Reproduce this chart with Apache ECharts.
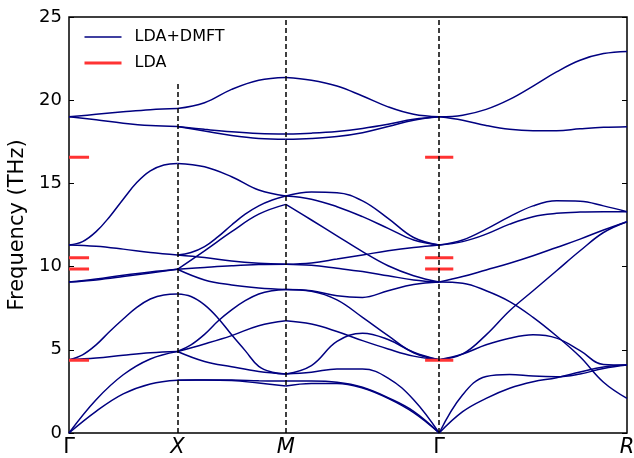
<!DOCTYPE html>
<html lang="en">
<head>
<meta charset="UTF-8">
<title>Phonon bands LDA+DMFT</title>
<style>
    html, body { margin: 0; padding: 0; background: #fff; }
    #bands { width: 634px; height: 458px; }
</style>
</head>
<body>
<div id="bands"></div>

<script src="https://cdn.jsdelivr.net/npm/echarts@6/dist/echarts.min.js"></script>
<script>
    // high symmetry points on the q path
    var kLabels = ['Γ', 'X', 'M', 'Γ', 'R'];
    var kPos = [0, 1, 2, 3.4142, 5.1463];

    // LDA+DMFT frequencies (THz), equally spaced samples along each path segment
    // (a band may carry more samples where it bends a lot)
    var bandsGX = [
        [0, 1.3, 2.35, 2.95, 3.17],
        [0, 2.0, 3.5, 4.45, 4.9],
        [4.4, 4.5, 4.67, 4.82, 4.9],
        [4.4, 4.7, 5.3, 6.1, 6.85, 7.55, 8.05, 8.3, 8.35],
        [9.07, 9.2, 9.4, 9.62, 9.84],
        [9.07, 9.25, 9.48, 9.68, 9.84],
        [11.3, 11.22, 11.05, 10.85, 10.7],
        [11.3, 11.5, 12.1, 13.0, 14.05, 15.05, 15.75, 16.1, 16.2],
        [19.0, 19.15, 19.3, 19.43, 19.5],
        [19.0, 18.82, 18.62, 18.48, 18.42]
    ];
    var bandsXM = [
        [3.17, 3.18, 3.18, 3.14, 3.12],
        [3.17, 3.18, 3.15, 3.0, 2.83],
        [4.9, 4.3, 3.98, 3.7, 3.55],
        [8.35, 8.2, 7.7, 6.9, 5.9, 4.95, 4.0, 3.65, 3.55],
        [4.9, 5.3, 5.93, 6.73, 7.4, 7.95, 8.35, 8.55, 8.63],
        [4.9, 5.35, 5.85, 6.45, 6.75],
        [9.84, 9.2, 8.9, 8.72, 8.63],
        [9.84, 9.95, 10.05, 10.12, 10.14],
        [10.7, 10.55, 10.33, 10.2, 10.14],
        [9.84, 10.95, 12.1, 13.15, 13.74],
        [10.7, 10.85, 11.2, 11.8, 12.5, 13.15, 13.65, 14.0, 14.24],
        [16.2, 16.0, 15.4, 14.6, 14.24],
        [19.5, 19.85, 20.65, 21.2, 21.37],
        [18.42, 18.25, 18.1, 18.0, 17.97],
        [18.42, 18.15, 17.88, 17.7, 17.65]
    ];
    var bandsMG = [
        [3.12, 3.12, 3.05, 2.75, 2.12, 1.3, 0],
        [2.83, 2.98, 2.98, 2.7, 2.08, 1.22, 0],
        [3.55, 3.65, 3.85, 3.85, 3.3, 2.0, 0],
        [3.55, 4.05, 5.5, 6.0, 5.62, 4.85, 4.4],
        [6.75, 6.55, 6.1, 5.55, 5.05, 4.62, 4.4],
        [8.63, 8.52, 8.0, 6.95, 5.85, 4.82, 4.4],
        [8.63, 8.55, 8.25, 8.15, 8.55, 8.92, 9.07],
        [10.14, 10.08, 9.9, 9.7, 9.45, 9.2, 9.07],
        [10.14, 10.22, 10.45, 10.7, 10.95, 11.15, 11.3],
        [13.74, 12.8, 11.85, 10.9, 10.05, 9.45, 9.07],
        [14.24, 14.48, 14.44, 13.95, 12.9, 11.75, 11.3],
        [14.24, 14.05, 13.6, 13.0, 12.3, 11.6, 11.3],
        [21.37, 21.2, 20.85, 20.25, 19.6, 19.15, 19.0],
        [17.97, 18.02, 18.12, 18.3, 18.55, 18.85, 19.0],
        [17.65, 17.7, 17.82, 18.05, 18.42, 18.8, 19.0]
    ];
    var bandsGR = [
        [0, 2.3, 3.4, 3.52, 3.42, 3.38, 3.55, 3.88, 4.09],
        [0, 1.28, 2.08, 2.69, 3.08, 3.32, 3.66, 3.97, 4.09],
        [4.4, 4.75, 5.3, 5.7, 5.9, 5.7, 4.95, 4.12, 4.09],
        [4.4, 4.75, 5.9, 7.35, 8.55, 9.75, 10.95, 12.05, 12.7],
        [9.07, 9.0, 8.55, 7.9, 6.95, 5.83, 4.58, 3.05, 2.08],
        [9.07, 9.4, 9.8, 10.2, 10.65, 11.15, 11.65, 12.2, 12.7],
        [11.3, 11.6, 12.25, 13.0, 13.65, 13.95, 13.93, 13.65, 13.3],
        [11.3, 11.5, 11.95, 12.55, 13.0, 13.2, 13.28, 13.3, 13.3],
        [19.0, 19.1, 19.45, 20.05, 20.85, 21.7, 22.4, 22.8, 22.93],
        [19.0, 18.8, 18.48, 18.25, 18.17, 18.17, 18.28, 18.37, 18.41]
    ];

    // LDA frequencies at Gamma (THz)
    var ldaFreq = [4.37, 9.86, 10.53, 16.57];

    var font = 'DejaVu Sans';
    var navy = '#000080';
    var series = [];

    function addSegment(bands, x0, x1) {
        bands.forEach(function (b) {
            var n = b.length - 1;
            series.push({
                name: 'LDA+DMFT',
                type: 'line',
                smooth: 0.4,
                symbol: 'none',
                silent: true,
                lineStyle: {color: navy, width: 1.5},
                itemStyle: {color: navy},
                z: 2,
                data: b.map(function (v, i) { return [x0 + (x1 - x0) * i / n, v]; })
            });
        });
    }
    addSegment(bandsGX, kPos[0], kPos[1]);
    addSegment(bandsXM, kPos[1], kPos[2]);
    addSegment(bandsMG, kPos[2], kPos[3]);
    addSegment(bandsGR, kPos[3], kPos[4]);

    // short red marks at the two Gamma points
    var ldaSpans = [[kPos[0], kPos[0] + 0.185], [kPos[3] - 0.13, kPos[3] + 0.13]];
    ldaSpans.forEach(function (s) {
        ldaFreq.forEach(function (f) {
            series.push({
                name: 'LDA',
                type: 'line',
                symbol: 'none',
                silent: true,
                lineStyle: {color: '#ff3333', width: 3},
                itemStyle: {color: '#ff3333'},
                z: 3,
                data: [[s[0], f], [s[1], f]]
            });
        });
    });

    // dashed verticals at inner high symmetry points
    series.push({
        name: 'kpath',
        type: 'line',
        data: [],
        markLine: {
            silent: true,
            symbol: ['none', 'none'],
            label: {show: false},
            animation: false,
            lineStyle: {color: '#000', type: [5, 3], width: 1.5},
            data: kPos.slice(1, 4).map(function (v) { return {xAxis: v}; })
        }
    });

    var chart = echarts.init(document.getElementById('bands'));
    chart.setOption({
        animation: false,
        backgroundColor: '#fff',
        grid: {
            left: 69, right: 7, top: 17, bottom: 25,
            containLabel: false,
            outerBoundsMode: 'none',
            show: true,
            borderColor: '#000',
            borderWidth: 1.5
        },
        legend: {
            data: ['LDA+DMFT', 'LDA'],
            orient: 'vertical',
            left: 70,
            top: 20,
            padding: [9, 12, 11, 13],
            itemWidth: 37,
            itemHeight: 14,
            itemGap: 10,
            backgroundColor: '#fff',
            selectedMode: false,
            z: 10,
            itemStyle: {opacity: 0, borderWidth: 0},
            lineStyle: {width: 'inherit'},
            textStyle: {fontFamily: font, fontSize: 16, color: '#000', padding: [0, 0, 0, 8]}
        },
        xAxis: {
            type: 'value',
            min: kPos[0],
            max: kPos[4],
            axisLine: {show: false},
            axisTick: {show: false},
            splitLine: {show: false},
            axisLabel: {
                customValues: kPos,
                margin: 4,
                formatter: function (v) {
                    var i = 0;
                    for (var j = 0; j < kPos.length; j++) {
                        if (Math.abs(kPos[j] - v) < Math.abs(kPos[i] - v)) i = j;
                    }
                    var t = kLabels[i];
                    return t === 'Γ' ? '{up|' + t + '}' : '{it|' + t + '}';
                },
                rich: {
                    up: {fontFamily: font, fontSize: 21, color: '#000'},
                    it: {fontFamily: font, fontSize: 21, color: '#000', fontStyle: 'italic'}
                }
            }
        },
        yAxis: [{
            type: 'value',
            min: 0,
            max: 25,
            interval: 5,
            name: 'Frequency (THz)',
            nameLocation: 'middle',
            nameRotate: 90,
            nameGap: 34,
            nameTextStyle: {fontFamily: font, fontSize: 21, color: '#000'},
            axisLine: {show: false},
            axisTick: {show: true, inside: true, length: 5, lineStyle: {color: '#000', width: 1}},
            splitLine: {show: false},
            axisLabel: {fontFamily: font, fontSize: 18, color: '#000', margin: 7}
        }, {
            type: 'value',
            position: 'right',
            min: 0,
            max: 25,
            interval: 5,
            axisLine: {show: false},
            axisTick: {show: true, inside: true, length: 5, lineStyle: {color: '#000', width: 1}},
            splitLine: {show: false},
            axisLabel: {show: false}
        }],
        series: series
    });
</script>
</body>
</html>
